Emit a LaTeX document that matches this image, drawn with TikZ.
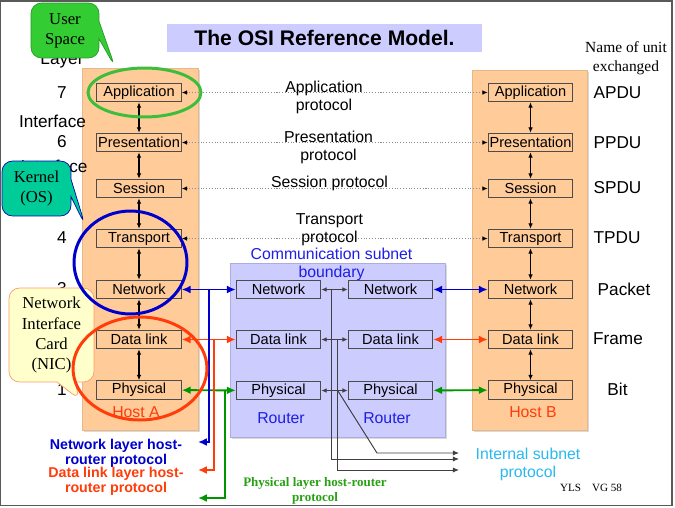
\documentclass[tikz,border=0pt]{standalone}
\usepackage{fontspec}
\setmainfont{Liberation Sans}
\newfontfamily\seriffont{Liberation Serif}
\usetikzlibrary{arrows.meta,positioning,calc,shapes.callouts,shadows}
\definecolor{peach}{RGB}{255,204,153}
\definecolor{lavender}{RGB}{204,204,255}
\definecolor{netblue}{RGB}{0,0,204}
\definecolor{linkred}{RGB}{255,60,10}
\definecolor{physgreen}{RGB}{0,150,0}
\definecolor{ellgreen}{RGB}{60,190,60}
\definecolor{userfill}{RGB}{51,204,51}
\definecolor{kernfill}{RGB}{0,204,153}
\definecolor{nicfill}{RGB}{255,255,204}
\definecolor{nicline}{RGB}{255,153,102}
\definecolor{subnetcyan}{RGB}{40,185,240}
\definecolor{txtblue}{RGB}{30,30,230}
\definecolor{phystxt}{RGB}{40,160,20}

\begin{document}
\begin{tikzpicture}[x=0.02cm, y=-0.02cm,
    osibox/.style={rectangle, draw=black!70, line width=0.6pt, minimum width=1.69cm, minimum height=0.37cm, inner sep=0pt, font=\fontsize{8.3}{10}\selectfont},
    host/.style={fill=peach, draw=peach!90!black, drop shadow={shadow xshift=1.2pt, shadow yshift=-1.2pt, opacity=0.3}},
    subnetbg/.style={fill=lavender, draw=lavender!85!black, drop shadow={shadow xshift=1.2pt, shadow yshift=-1.2pt, opacity=0.3}},
    lbl/.style={font=\fontsize{9}{10.2}\selectfont, align=center, inner sep=0pt},
    sidelbl/.style={font=\fontsize{9.8}{11}\selectfont, inner sep=0pt},
    hrlbl/.style={font=\bfseries\fontsize{8.1}{8.6}\selectfont, align=center, inner sep=0pt},
    proto/.style={densely dotted, draw=black!45, line width=0.6pt, {Latex[length=3pt,width=2.6pt,black]}-{Latex[length=3pt,width=2.6pt,black]}},
    updown/.style={line width=0.6pt, {Latex[length=3pt,width=2.6pt]}-{Latex[length=3pt,width=2.6pt]}},
    hr/.style={line width=1.1pt, {Latex[length=5pt,width=4.5pt]}-{Latex[length=5pt,width=4.5pt]}},
    hrdown/.style={line width=1.1pt, -{Latex[length=5pt,width=4.5pt]}},
    subnetarr/.style={line width=0.55pt, draw=black!75, {Latex[length=3pt,width=2.6pt]}-{Latex[length=3pt,width=2.6pt]}},
    subnetdown/.style={line width=0.55pt, draw=black!75, -{Latex[length=3.5pt,width=3pt]}},
    callbox/.style={rectangle callout, rounded corners=6pt, callout pointer width=0.35cm, font=\seriffont\fontsize{9.5}{11.4}\selectfont, align=center, inner sep=2pt},
    ring/.style={line width=1.7pt}
]
    \useasboundingbox (0,0) rectangle (675,507);
    \draw[black!65, line width=1pt] (0.5,1) rectangle (672,505.5);

    % columns and subnet
    \path[host] (82,68) rectangle (198,430);
    \path[host] (472,70) rectangle (587,430);
    \path[subnetbg] (230,263) rectangle (445,437);

    \node[fill=lavender, minimum width=6.3cm, minimum height=0.44cm, font=\bfseries\fontsize{12}{14}\selectfont] (title) at (324.5,38) {The OSI Reference Model.};

    % host A
    \node[osibox] (a7) at (139,92.5) {Application};
    \node[osibox] (a6) at (139,142.5) {Presentation};
    \node[osibox] (a5) at (139,188.5) {Session};
    \node[osibox] (a4) at (139,238.5) {Transport};
    \node[osibox] (a3) at (139,289.5) {Network};
    \node[osibox] (a2) at (139,339.5) {Data link};
    \node[osibox] (a1) at (139,390) {Physical};

    % host B
    \node[osibox] (b7) at (530.5,92.5) {Application};
    \node[osibox] (b6) at (530.5,142.5) {Presentation};
    \node[osibox] (b5) at (530.5,188.5) {Session};
    \node[osibox] (b4) at (530.5,238.5) {Transport};
    \node[osibox] (b3) at (530.5,289.5) {Network};
    \node[osibox] (b2) at (530.5,339.5) {Data link};
    \node[osibox] (b1) at (530.5,390) {Physical};

    % routers
    \node[osibox] (r3) at (278.5,289.5) {Network};
    \node[osibox] (r2) at (278.5,339.5) {Data link};
    \node[osibox] (r1) at (278.5,390.5) {Physical};
    \node[osibox] (s3) at (390.5,289.5) {Network};
    \node[osibox] (s2) at (390.5,339.5) {Data link};
    \node[osibox] (s1) at (390.5,390.5) {Physical};

    \draw[updown] (a7) -- (a6);
    \draw[updown] (a6) -- (a5);
    \draw[updown] (a5) -- (a4);
    \draw[updown] (a4) -- (a3);
    \draw[updown] (a3) -- (a2);
    \draw[updown] (a2) -- (a1);
    \draw[updown] (b7) -- (b6);
    \draw[updown] (b6) -- (b5);
    \draw[updown] (b5) -- (b4);
    \draw[updown] (b4) -- (b3);
    \draw[updown] (b3) -- (b2);
    \draw[updown] (b2) -- (b1);

    % peer protocols
    \draw[proto] (a7) -- (b7);
    \draw[proto] (a6) -- (b6);
    \draw[proto] (a5) -- (b5);
    \draw[proto] (a4) -- (b4);
    \node[lbl] (papp) at (324,97) {Application\\protocol};
    \node[lbl] (ppre) at (328.5,147) {Presentation\\protocol};
    \node[lbl] (pses) at (329.5,183) {Session protocol};
    \node[lbl] (ptra) at (329.5,229.5) {Transport\\protocol};

    % host-router
    \draw[hr, netblue] (a3) -- (r3);
    \draw[hr, linkred] (a2) -- (r2);
    \draw[hr, physgreen] (a1) -- (r1);
    \draw[hr, netblue] (s3) -- (b3);
    \draw[hr, linkred] (s2) -- (b2);
    \draw[hr, physgreen] (s1) -- (b1);
    \coordinate (netend) at (198,442);
    \coordinate (linkend) at (198,470);
    \coordinate (physend) at (198,498);
    \draw[hrdown, netblue] ($(a3.east)!0.51!(r3.west)$) |- (netend);
    \draw[hrdown, linkred] ($(a2.east)!0.6!(r2.west)$) |- (linkend);
    \draw[hrdown, physgreen] ($(a1.east)!0.8!(r1.west)$) |- (physend);

    % inside the subnet
    \draw[subnetarr] (r3) -- (s3);
    \draw[subnetarr] (r2) -- (s2);
    \draw[subnetarr] (r1) -- (s1);
    \coordinate (intphys) at (459,453);
    \coordinate (intnet) at (459,459);
    \coordinate (intlink) at (459,470);
    \coordinate (bend) at (377,453);
    \draw[subnetdown] ($(r3.east)!0.4!(s3.west)$) |- (intnet);
    \draw[subnetdown] ($(r2.east)!0.6!(s2.west)$) |- (intlink);
    \draw[subnetdown] ($(r1.east)!0.62!(s1.west)$) -- (bend) -- (intphys);

    \node[lbl, text=linkred] (hosta) at (136,412) {Host A};
    \node[lbl, text=linkred] (hostb) at (533,412) {Host B};
    \node[lbl, text=txtblue] (routl) at (281,418) {Router};
    \node[lbl, text=txtblue] (routr) at (387,418) {Router};
    \node[lbl, text=txtblue] (subnet) at (331.5,264) {Communication subnet\\boundary};
    \node[lbl, text=subnetcyan] (intproto) at (528,464) {Internal subnet\\protocol};

    \node[hrlbl, text=netblue] (netproto) at (116,453.5) {Network layer host-\\router protocol};
    \node[hrlbl, text=linkred] (linkproto) at (116,481) {Data link layer host-\\router protocol};
    \node[font=\seriffont\bfseries\fontsize{7.4}{8.5}\selectfont, text=phystxt, align=center, inner sep=0pt] (physproto) at (315,490.5) {Physical layer host-router\\protocol};
    \node[font=\seriffont\fontsize{6.3}{7}\selectfont, inner sep=0pt] (credit) at (591,488) {YLS\quad VG 58};

    % unit names
    \node[font=\seriffont\fontsize{8.8}{10.8}\selectfont, align=center, inner sep=0pt] (unithead) at (626,58) {Name of unit\\exchanged};
    \node[sidelbl] (u7) at (617.5,93) {APDU};
    \node[sidelbl] (u6) at (617.5,143) {PPDU};
    \node[sidelbl] (u5) at (617.5,188) {SPDU};
    \node[sidelbl] (u4) at (617,238) {TPDU};
    \node[sidelbl] (u3) at (624,289) {Packet};
    \node[sidelbl] (u2) at (618,339) {Frame};
    \node[sidelbl] (u1) at (617.5,389) {Bit};

    % layer numbers (partly under the callouts)
    \node[sidelbl] (layerhd) at (62,60) {Layer};
    \node[sidelbl] (n7) at (62,93) {7};
    \node[sidelbl] (if1) at (52.5,121) {Interface};
    \node[sidelbl] (n6) at (62,142) {6};
    \node[sidelbl] (if2) at (54,166) {Interface};
    \node[sidelbl] (n4) at (62,238) {4};
    \node[sidelbl] (n3) at (62,289) {3};
    \node[sidelbl] (n1) at (62,390) {1};

    % callouts
    \coordinate (usertip) at (115,67);
    \coordinate (kerntip) at (85,225);
    \coordinate (nictip) at (80,400);
    \node[callbox, fill=userfill, draw=userfill!75!black, minimum width=1.36cm, minimum height=1.1cm, callout absolute pointer=(usertip)] (user) at (65,30.5) {User\\Space};
    \node[callbox, fill=kernfill, draw=blue!70!black, minimum width=1.38cm, minimum height=1.1cm, callout absolute pointer=(kerntip)] (kernel) at (36.5,188.5) {Kernel\\(OS)};
    \node[callbox, fill=nicfill, draw=nicline, minimum width=1.7cm, minimum height=1.88cm, callout absolute pointer=(nictip)] (nic) at (51.5,335) {Network\\Interface\\Card\\(NIC)};

    % highlight rings
    \draw[ring, ellgreen] (144.5,92.5) ellipse [x radius=1.13cm, y radius=0.49cm];
    \draw[ring, netblue] (130.5,262.5) ellipse [x radius=1.13cm, y radius=1.03cm];
    \draw[ring, linkred] (140,368.5) ellipse [x radius=1.34cm, y radius=1.03cm];
\end{tikzpicture}
\end{document}
